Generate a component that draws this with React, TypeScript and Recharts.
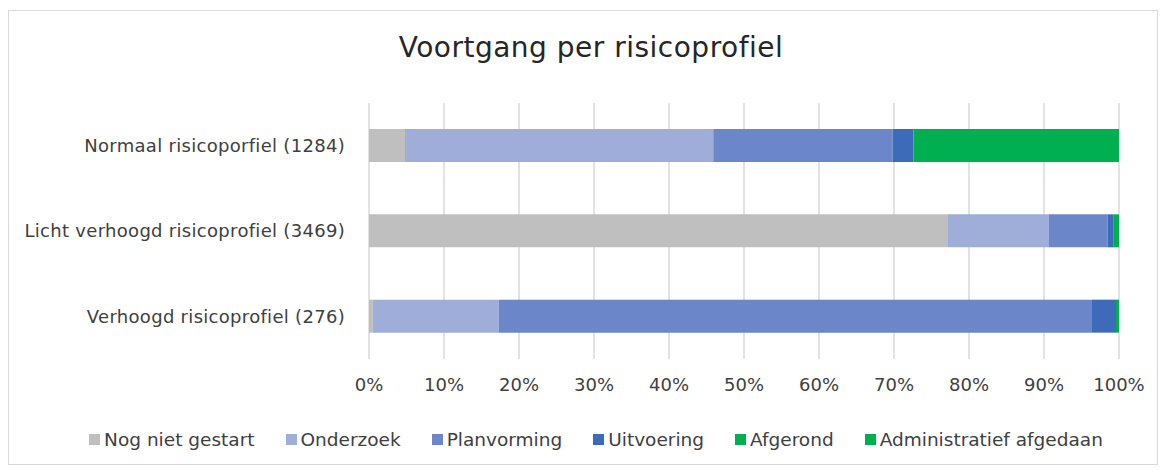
import React from 'react';
import { BarChart, Bar, XAxis, YAxis, CartesianGrid, Legend } from 'recharts';

const categories = [
  'Normaal risicoporfiel (1284)',
  'Licht verhoogd risicoprofiel (3469)',
  'Verhoogd risicoprofiel (276)',
];
const seriesNames = ['Nog niet gestart', 'Onderzoek', 'Planvorming', 'Uitvoering', 'Afgerond', 'Administratief afgedaan'];
const seriesColors = ['#BFBFBF', '#9EAED9', '#6C87C9', '#3E6BB9', '#00B050', '#00B050'];
const nogNietGestart = [4.8, 77.1, 0.5];
const onderzoek = [41.1, 13.5, 16.8];
const planvorming = [23.9, 7.9, 79.1];
const uitvoering = [2.8, 0.8, 3.2];
const afgerond = [27.4, 0.7, 0.4];
const administratiefAfgedaan = [0, 0, 0];
const xTicks = [0, 10, 20, 30, 40, 50, 60, 70, 80, 90, 100];

const seriesValues = [nogNietGestart, onderzoek, planvorming, uitvoering, afgerond, administratiefAfgedaan];
const data = categories.map((c, i) => {
  const row: any = { name: c };
  seriesNames.forEach((s, j) => { row[s] = seriesValues[j][i]; });
  return row;
});

const FONT = '"DejaVu Sans", sans-serif';

const LegendContent = () => (
  <div style={{ display: 'flex', justifyContent: 'center', fontFamily: FONT, fontSize: 18.5, color: '#404040', width: 1150, paddingLeft: 26, boxSizing: 'border-box' }}>
    {seriesNames.map((s, i) => (
      <div key={s} style={{ display: 'flex', alignItems: 'center', marginRight: i < seriesNames.length - 1 ? 31 : 0 }}>
        <span style={{ display: 'inline-block', width: 11, height: 11, background: seriesColors[i], marginRight: 4 }} />
        <span>{s}</span>
      </div>
    ))}
  </div>
);

export default function App() {
  return (
    <div style={{ position: 'relative', width: 1150, height: 455, marginTop: 2, border: '1px solid #d9d9d9', boxSizing: 'border-box', background: '#fff' }}>
      <div style={{ position: 'absolute', left: 7, top: 20, width: 1150, textAlign: 'center', fontFamily: FONT, fontSize: 28, letterSpacing: 0.5, color: '#262626' }}>
        Voortgang per risicoprofiel
      </div>
      <div style={{ position: 'absolute', left: -1, top: -1 }}>
        <BarChart
          width={1150}
          height={455}
          data={data}
          layout="vertical"
          margin={{ top: 93, right: 39, bottom: 76, left: 0 }}
        >
          <CartesianGrid horizontal={false} stroke="#d9d9d9" strokeWidth={1.5} />
          <XAxis
            type="number"
            domain={[0, 100]}
            ticks={xTicks}
            tickFormatter={(v: number) => `${v}%`}
            axisLine={false}
            tickLine={false}
            tickMargin={13}
            height={30}
            tick={{ fontFamily: FONT, fontSize: 18, fill: '#404040' }}
            interval={0}
          />
          <YAxis
            type="category"
            dataKey="name"
            width={361}
            axisLine={false}
            tickLine={false}
            tickMargin={18}
            tick={{ fontFamily: FONT, fontSize: 18, fill: '#404040', letterSpacing: 0.3 }}
          />
          <Legend
            layout="horizontal"
            verticalAlign="middle"
            align="center"
            wrapperStyle={{ top: 419, left: 0, width: 1150 }}
            content={<LegendContent />}
          />
          {seriesNames.map((s, i) => (
            <Bar key={s} dataKey={s} stackId="a" fill={seriesColors[i]} barSize={33} isAnimationActive={false} />
          ))}
        </BarChart>
      </div>
    </div>
  );
}
